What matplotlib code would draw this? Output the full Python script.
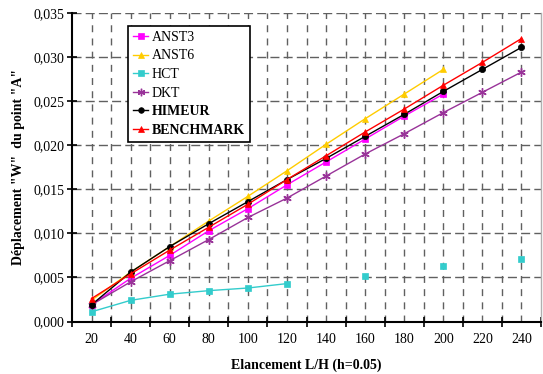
import numpy as np
import matplotlib
matplotlib.use("Agg")
import matplotlib.pyplot as plt
from matplotlib.ticker import FuncFormatter, FixedLocator

plt.rcParams['font.family'] = ['Liberation Serif', 'DejaVu Serif']
plt.rcParams['lines.scale_dashes'] = False

# Slenderness ratios L/H
elancement = [20, 40, 60, 80, 100, 120, 140, 160, 180, 200, 220, 240]

# Deflection "W" at point "A" for each element formulation
anst3 = [0.0019, 0.0049, 0.0075, 0.0103, 0.0128, 0.0155, 0.0181, 0.0207, 0.0233, 0.0258, np.nan, np.nan]
anst6 = [0.0024, 0.0056, 0.0085, 0.0114, 0.0142, 0.0171, 0.0201, 0.0230, 0.0258, 0.0286, np.nan, np.nan]
hct = [0.0011, 0.0024, 0.0031, 0.0035, 0.0038, 0.0043, np.nan, 0.0052, np.nan, 0.0063, np.nan, 0.0071]
dkt = [0.0019, 0.0045, 0.0069, 0.0093, 0.0118, 0.0140, 0.0165, 0.0190, 0.0213, 0.0237, 0.0260, 0.0283]
himeur = [0.0019, 0.0056, 0.0085, 0.0111, 0.0136, 0.0161, 0.0185, 0.0210, 0.0235, 0.0261, 0.0286, 0.0311]
benchmark = [0.0026, 0.0054, 0.0081, 0.0107, 0.0133, 0.0161, 0.0188, 0.0215, 0.0241, 0.0268, 0.0294, 0.0321]

series = [
    ("ANST3", anst3, "#FF00FF", "s", 4.5, "normal"),
    ("ANST6", anst6, "#FFCC00", "^", 5.0, "normal"),
    ("HCT", hct, "#33CCCC", "s", 4.5, "normal"),
    ("DKT", dkt, "#993399", (6, 2, 0), 6.0, "normal"),
    ("HIMEUR", himeur, "#000000", "o", 4.5, "bold"),
    ("BENCHMARK", benchmark, "#FF0000", "^", 5.0, "bold"),
]

fig = plt.figure(figsize=(5.43, 3.74), dpi=100)
ax = fig.add_axes([72 / 543, 1 - 321.5 / 374, 469 / 543, 308.5 / 374])

ax.set_xlim(10, 250)
ax.set_ylim(0, 0.035)

# dashed grid
grid_col = "#606060"
for xv in np.arange(20, 250, 10):
    ax.axvline(xv, color=grid_col, lw=1.0, linestyle=(0, (5.0, 4.5)), zorder=1)
for yv in np.arange(0.005, 0.0351, 0.005):
    ax.axhline(yv, color=grid_col, lw=1.0, linestyle=(0, (6.5, 3.0)), zorder=1)

for name, vals, col, mk, ms, _ in series:
    mew = 1.0 if isinstance(mk, tuple) else 0.5
    ax.plot(elancement, vals, color=col, lw=1.0, marker=mk, markersize=ms,
            markeredgecolor=col, markerfacecolor=col, markeredgewidth=mew,
            label=name, zorder=3)

# spines
ax.spines['top'].set_visible(False)
ax.spines['right'].set_color("#B0B0B0")
ax.spines['right'].set_linewidth(1.0)
ax.spines['left'].set_linewidth(1.5)
ax.spines['bottom'].set_linewidth(1.5)

# x ticks: marks between categories, labels on categories
ax.xaxis.set_major_locator(FixedLocator(np.arange(10, 251, 20)))
ax.xaxis.set_minor_locator(FixedLocator(elancement))
ax.tick_params(axis='x', which='major', length=7, width=1.2, direction='inout', labelbottom=False)
ax.tick_params(axis='x', which='minor', length=0, pad=8, labelsize=10)
ax.xaxis.set_minor_formatter(FuncFormatter(lambda v, p: f"{v:.0f}"))

ax.yaxis.set_major_locator(FixedLocator(np.arange(0, 0.0351, 0.005)))
ax.yaxis.set_major_formatter(FuncFormatter(lambda v, p: f"{v:.3f}".replace('.', ',')))
ax.tick_params(axis='y', which='major', length=7, width=1.2, direction='inout', labelsize=10, pad=2)

ax.set_xlabel("Elancement L/H (h=0.05)", fontsize=10, fontweight='bold', labelpad=9.5)
ax.set_ylabel('Déplacement "W"  du point "A"', fontsize=10, fontweight='bold', labelpad=6)

leg = ax.legend(loc='upper left', bbox_to_anchor=((128 - 72) / 469, (321.5 - 26) / 308.5),
                borderaxespad=0, fontsize=10, frameon=True, fancybox=False,
                edgecolor='black', framealpha=1, handlelength=1.1, handletextpad=0.25,
                labelspacing=0.4, borderpad=0.35, markerscale=0.9)
leg.get_frame().set_linewidth(1.2)
for txt, s in zip(leg.get_texts(), series):
    txt.set_fontweight(s[5])

fig.savefig("out.png", dpi=100)
